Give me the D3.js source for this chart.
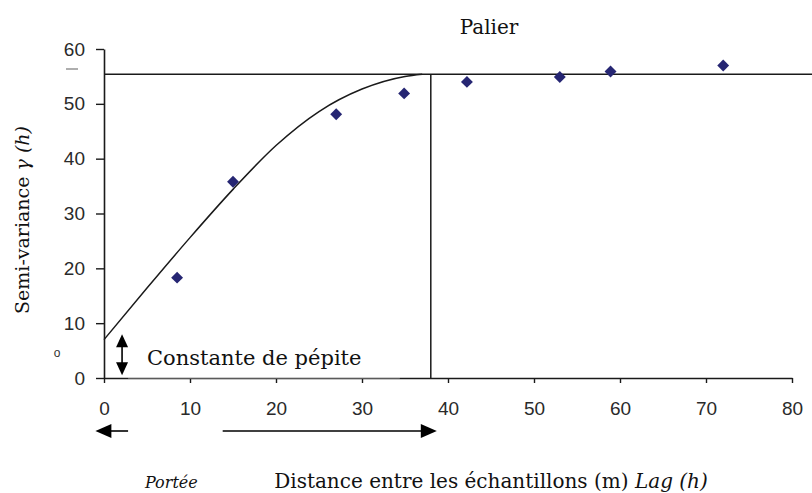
<!DOCTYPE html>
<html>
<head>
<meta charset="utf-8">
<script src="https://cdn.jsdelivr.net/npm/d3@7"></script>
<style>
  html, body { margin: 0; padding: 0; background: #fff; }
  svg { display: block; }
</style>
</head>
<body>
<svg id="chart" width="812" height="493"></svg>
<script>
// Experimental semivariogram: lag distance (m) and semi-variance
const lags = [8.5, 15.0, 27.0, 34.9, 42.2, 53.0, 58.9, 72.0];
const gammas = [18.3, 35.8, 48.1, 51.9, 54.0, 54.9, 55.9, 57.0];

// Fitted model curve (nugget rising to the sill at the range)
const modelLag = [0, 5, 10, 15, 20, 25, 30, 35, 37];
const modelGamma = [7.0, 16.4, 25.6, 34.4, 42.4, 48.6, 52.7, 55.0, 55.4];

// Model parameters
const nugget = 7.0;
const sill = 55.4;
const range = 38.0;

// Axis ticks
const xTicks = [0, 10, 20, 30, 40, 50, 60, 70, 80];
const yTicks = [0, 10, 20, 30, 40, 50, 60];

const svg = d3.select("#chart");
const x = d3.scaleLinear().domain([0, 80]).range([104, 792]);
const y = d3.scaleLinear().domain([0, 60]).range([378, 49]);

const ink = "#1a1a1a";
const sansFont = "'Liberation Sans', Arial, sans-serif";
const serifFont = "'DejaVu Serif', serif";

// Y axis
const yAxis = svg.append("g")
  .attr("transform", `translate(${x(0)},0)`)
  .call(d3.axisLeft(y).tickValues(yTicks).tickSize(8).tickSizeOuter(0).tickPadding(11));
// X axis
const xAxis = svg.append("g")
  .attr("transform", `translate(0,${y(0)})`)
  .call(d3.axisBottom(x).tickValues(xTicks).tickSize(5).tickSizeOuter(0).tickPadding(19));

[yAxis, xAxis].forEach(g => {
  g.select(".domain").attr("stroke", ink).attr("stroke-width", 1.6);
  g.selectAll(".tick line").attr("stroke", ink).attr("stroke-width", 1.4);
  g.selectAll(".tick text")
    .attr("font-family", sansFont)
    .attr("font-size", 19)
    .attr("fill", "#2a2a2a");
});

// Sill (palier) line
svg.append("line")
  .attr("x1", x(0)).attr("x2", x(83))
  .attr("y1", y(sill)).attr("y2", y(sill))
  .attr("stroke", ink).attr("stroke-width", 1.5);

// Range line
svg.append("line")
  .attr("x1", x(range)).attr("x2", x(range))
  .attr("y1", y(sill)).attr("y2", y(0))
  .attr("stroke", ink).attr("stroke-width", 1.5);

// Model curve
const line = d3.line()
  .x((d, i) => x(modelLag[i]))
  .y(d => y(d))
  .curve(d3.curveMonotoneX);
svg.append("path")
  .datum(modelGamma)
  .attr("d", line)
  .attr("fill", "none")
  .attr("stroke", ink)
  .attr("stroke-width", 1.5);

// Observed points
svg.append("g").selectAll("path")
  .data(lags)
  .join("path")
  .attr("transform", (d, i) => `translate(${x(d)},${y(gammas[i])})`)
  .attr("d", d3.symbol().type(d3.symbolDiamond2).size(90))
  .attr("fill", "#262673");

// Label box for the nugget, sitting on the axis
const boxX0 = 2.8, boxX1 = 34.4;
svg.append("rect")
  .attr("x", x(boxX0)).attr("y", y(7.0))
  .attr("width", x(boxX1) - x(boxX0)).attr("height", y(0) - y(7.0))
  .attr("fill", "#fff");
svg.append("line")
  .attr("x1", x(boxX0)).attr("x2", x(boxX1))
  .attr("y1", y(0)).attr("y2", y(0))
  .attr("stroke", "#9a9a9a").attr("stroke-width", 1);
svg.append("text")
  .attr("x", 147).attr("y", 365)
  .attr("font-family", serifFont).attr("font-size", 21)
  .attr("fill", "#111")
  .text("Constante de pépite");

// Filled triangle helper for arrow heads
function head(tipX, tipY, dir, len, half) {
  let pts;
  if (dir === "left") pts = [[tipX, tipY], [tipX + len, tipY - half], [tipX + len, tipY + half]];
  else if (dir === "right") pts = [[tipX, tipY], [tipX - len, tipY - half], [tipX - len, tipY + half]];
  else if (dir === "up") pts = [[tipX, tipY], [tipX - half, tipY + len], [tipX + half, tipY + len]];
  else pts = [[tipX, tipY], [tipX - half, tipY - len], [tipX + half, tipY - len]];
  svg.append("path").attr("d", "M" + pts.join("L") + "Z").attr("fill", "#000");
}

// Nugget double arrow
const nx = x(2.1);
svg.append("line")
  .attr("x1", nx).attr("x2", nx)
  .attr("y1", y(8.0) + 8).attr("y2", y(0.5) - 8)
  .attr("stroke", "#000").attr("stroke-width", 1.6);
head(nx, y(8.0), "up", 13, 6);
head(nx, y(0.5), "down", 13, 6);

// Range arrows below the axis
const ay = 431;
svg.append("line")
  .attr("x1", x(-1.0) + 10).attr("x2", x(2.8))
  .attr("y1", ay).attr("y2", ay)
  .attr("stroke", "#000").attr("stroke-width", 1.6);
head(x(-1.0), ay, "left", 16, 7);
svg.append("line")
  .attr("x1", x(13.8)).attr("x2", x(38.7) - 10)
  .attr("y1", ay).attr("y2", ay)
  .attr("stroke", "#000").attr("stroke-width", 1.6);
head(x(38.7), ay, "right", 16, 7);

svg.append("text")
  .attr("x", 145).attr("y", 488)
  .attr("font-family", serifFont).attr("font-size", 16)
  .attr("font-style", "italic")
  .attr("fill", "#111")
  .text("Portée");

// Stray small marks at the left of the axis
svg.append("text")
  .attr("x", 57).attr("y", 357)
  .attr("text-anchor", "middle")
  .attr("font-family", sansFont).attr("font-size", 12)
  .attr("fill", "#333")
  .text("o");
svg.append("line")
  .attr("x1", 66).attr("x2", 78)
  .attr("y1", 69).attr("y2", 69)
  .attr("stroke", "#777").attr("stroke-width", 1.2);

// Titles
svg.append("text")
  .attr("x", 489).attr("y", 34)
  .attr("text-anchor", "middle")
  .attr("font-family", serifFont).attr("font-size", 20)
  .attr("fill", "#111")
  .text("Palier");

const xt = svg.append("text")
  .attr("x", 491).attr("y", 488)
  .attr("text-anchor", "middle")
  .attr("font-family", serifFont).attr("font-size", 20)
  .attr("fill", "#111");
xt.append("tspan").text("Distance entre les échantillons (m) ");
xt.append("tspan").attr("font-style", "italic").text("Lag (h)");

const yt = svg.append("text")
  .attr("transform", "translate(29,220) rotate(-90)")
  .attr("text-anchor", "middle")
  .attr("font-family", serifFont).attr("font-size", 19)
  .attr("fill", "#111");
yt.append("tspan").text("Semi-variance ");
yt.append("tspan").attr("font-style", "italic").text("γ (h)");
</script>
</body>
</html>
